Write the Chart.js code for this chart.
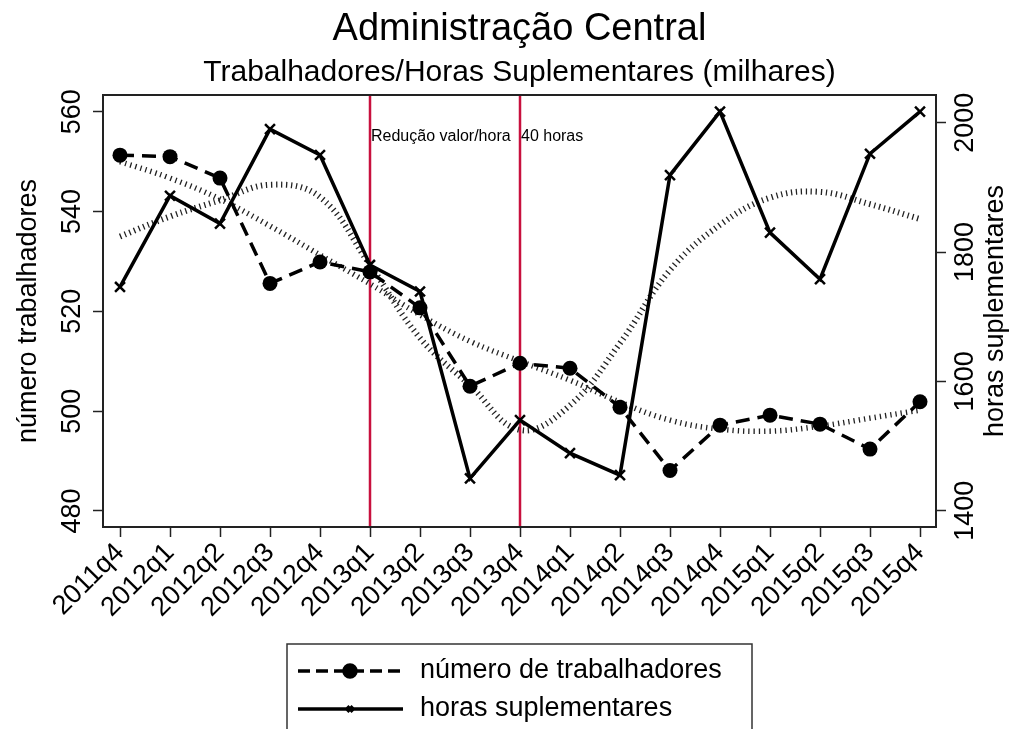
<!DOCTYPE html>
<html>
<head>
<meta charset="utf-8">
<script src="https://cdn.jsdelivr.net/npm/chart.js@4.4.0/dist/chart.umd.min.js"></script>
<style>
  html, body { margin: 0; padding: 0; background: #fff; }
</style>
</head>
<body>
<canvas id="grafik" width="1011" height="729"></canvas>
<script>
// dados
let quarters = ["2011q4", "2012q1", "2012q2", "2012q3", "2012q4", "2013q1", "2013q2", "2013q3", "2013q4",
  "2014q1", "2014q2", "2014q3", "2014q4", "2015q1", "2015q2", "2015q3", "2015q4"];

let trabalhadores = [551.3, 551.0, 546.7, 525.6, 529.9, 527.9, 520.7, 505.0, 509.6,
  508.6, 500.8, 488.1, 497.2, 499.2, 497.4, 492.4, 501.9];

let horas = [1746, 1887, 1844, 1990, 1950, 1780, 1739, 1450, 1540,
  1489, 1455, 1919, 2017, 1830, 1758, 1952, 2017];

// tendencias (linhas pontilhadas)
let trabalhadoresTrend = [550.0, 546.7, 542.5, 537.1, 531.3, 525.5, 519.3, 514.0, 510.0,
  506.2, 501.8, 498.2, 496.4, 496.0, 497.0, 498.6, 500.2];
let horasTrend = [1824, 1855, 1880, 1904, 1885, 1780, 1667, 1594, 1525,
  1563, 1659, 1772, 1842, 1884, 1893, 1874, 1851];

let marcos = [
  { idx: 5, texto: "Redução valor/hora" },
  { idx: 8, texto: "40 horas" }
];

let ticksEsq = [480, 500, 520, 540, 560];
let ticksDir = [1400, 1600, 1800, 2000];

let fonte = "'Liberation Sans', Arial, Helvetica, sans-serif";
Chart.defaults.font.family = fonte;
Chart.defaults.color = "#000";

function toXY(arr) {
  return arr.map((v, i) => ({ x: i, y: v }));
}

let decor = {
  id: "decor",
  beforeDatasetsDraw(chart) {
    let ctx = chart.ctx;
    let area = chart.chartArea;
    let xs = chart.scales.x;
    ctx.save();
    marcos.forEach(m => {
      let px = xs.getPixelForValue(m.idx);
      ctx.strokeStyle = "#c8103e";
      ctx.lineWidth = 2.5;
      ctx.beginPath();
      ctx.moveTo(px, area.top);
      ctx.lineTo(px, area.bottom);
      ctx.stroke();
      ctx.fillStyle = "#000";
      ctx.font = "16px " + fonte;
      ctx.textAlign = "left";
      ctx.textBaseline = "middle";
      ctx.fillText(m.texto, px + 1, area.top + 42);
    });
    ctx.restore();
  },
  afterDraw(chart) {
    let ctx = chart.ctx;
    let area = chart.chartArea;
    let cx = (area.left + area.right) / 2;
    ctx.save();
    // moldura
    ctx.strokeStyle = "#222";
    ctx.lineWidth = 2;
    ctx.strokeRect(area.left, area.top, area.right - area.left, area.bottom - area.top);

    // titulos
    ctx.fillStyle = "#000";
    ctx.textAlign = "center";
    ctx.textBaseline = "middle";
    ctx.font = "38px " + fonte;
    ctx.fillText("Administração Central", cx, 30);
    ctx.font = "30px " + fonte;
    ctx.fillText("Trabalhadores/Horas Suplementares (milhares)", cx, 73);

    // titulo eixo direito (lido de baixo para cima)
    ctx.save();
    ctx.translate(996, (area.top + area.bottom) / 2);
    ctx.rotate(-Math.PI / 2);
    ctx.font = "27px " + fonte;
    ctx.fillText("horas suplementares", 0, 0);
    ctx.restore();

    // legenda
    ctx.strokeStyle = "#333";
    ctx.lineWidth = 1.5;
    ctx.strokeRect(287, 644, 465, 120);
    let rows = [671, 709];
    [0, 1].forEach(i => {
      let ds = chart.data.datasets[i];
      let y = rows[i];
      ctx.strokeStyle = ds.borderColor;
      ctx.lineWidth = ds.borderWidth;
      ctx.setLineDash(i == 0 ? [12, 6] : []);
      ctx.beginPath();
      ctx.moveTo(298, y);
      ctx.lineTo(403, y);
      ctx.stroke();
      ctx.setLineDash([]);
      Chart.helpers.drawPoint(ctx, {
        pointStyle: ds.pointStyle,
        radius: i == 0 ? 6 : 4,
        borderWidth: 2
      }, 350, y);
      if (i == 0) {
        ctx.fillStyle = "#000";
        ctx.beginPath();
        ctx.arc(350, y, 6, 0, Math.PI * 2);
        ctx.fill();
      }
      ctx.fillStyle = "#000";
      ctx.font = "27px " + fonte;
      ctx.textAlign = "left";
      ctx.textBaseline = "middle";
      ctx.fillText(ds.label, 420, y);
    });
    ctx.restore();
  }
};

let ctx = document.getElementById("grafik");

let grafik = new Chart(ctx, {
  type: "line",
  data: {
    datasets: [
      {
        label: "número de trabalhadores",
        data: toXY(trabalhadores),
        yAxisID: "y",
        borderColor: "#000",
        backgroundColor: "#000",
        borderWidth: 3.5,
        borderDash: [14, 8],
        pointStyle: "circle",
        pointRadius: 7.5,
        pointBorderWidth: 0,
        tension: 0
      },
      {
        label: "horas suplementares",
        data: toXY(horas),
        yAxisID: "y2",
        borderColor: "#000",
        backgroundColor: "#000",
        borderWidth: 3.5,
        pointStyle: "crossRot",
        pointRadius: 7,
        pointBorderWidth: 2.5,
        tension: 0
      },
      {
        label: "tendencia trabalhadores",
        data: toXY(trabalhadoresTrend),
        yAxisID: "y",
        borderColor: "#222",
        borderWidth: 5.5,
        borderDash: [1.3, 4],
        borderCapStyle: "butt",
        pointRadius: 0,
        tension: 0.4
      },
      {
        label: "tendencia horas",
        data: toXY(horasTrend),
        yAxisID: "y2",
        borderColor: "#222",
        borderWidth: 6,
        borderDash: [1.3, 3.7],
        borderCapStyle: "butt",
        pointRadius: 0,
        tension: 0.4
      }
    ]
  },
  options: {
    responsive: false,
    animation: false,
    devicePixelRatio: 1,
    layout: { padding: { top: 95, left: 0, right: 0, bottom: 0 } },
    plugins: {
      legend: { display: false },
      tooltip: { enabled: false }
    },
    scales: {
      x: {
        type: "linear",
        min: -0.34,
        max: 16.32,
        afterBuildTicks: s => { s.ticks = quarters.map((q, i) => ({ value: i })); },
        afterFit: s => { s.height = 202; },
        ticks: {
          callback: v => quarters[v],
          minRotation: 45,
          maxRotation: 45,
          autoSkip: false,
          padding: 0,
          font: { size: 27 },
          color: "#000"
        },
        grid: { drawOnChartArea: false, tickLength: 10, tickColor: "#222", tickWidth: 1.5 },
        border: { display: false }
      },
      y: {
        position: "left",
        min: 476.79,
        max: 563.35,
        afterBuildTicks: s => { s.ticks = ticksEsq.map(v => ({ value: v })); },
        afterFit: s => { s.width = 103; },
        ticks: {
          callback: v => String(v),
          minRotation: 90,
          maxRotation: 90,
          crossAlign: "center",
          padding: -2,
          font: { size: 27 },
          color: "#000"
        },
        title: {
          display: true,
          text: "número trabalhadores",
          font: { size: 27 },
          color: "#000",
          padding: { top: 12, bottom: 0 }
        },
        grid: { drawOnChartArea: false, tickLength: 10, tickColor: "#222", tickWidth: 1.5 },
        border: { display: false }
      },
      y2: {
        position: "right",
        min: 1374.8,
        max: 2042.8,
        afterBuildTicks: s => { s.ticks = ticksDir.map(v => ({ value: v })); },
        afterFit: s => { s.width = 75; },
        ticks: {
          callback: v => String(v),
          minRotation: 90,
          maxRotation: 90,
          crossAlign: "center",
          padding: -10,
          font: { size: 27 },
          color: "#000"
        },
        grid: { drawOnChartArea: false, tickLength: 10, tickColor: "#222", tickWidth: 1.5 },
        border: { display: false }
      }
    }
  },
  plugins: [decor]
});
</script>
</body>
</html>
